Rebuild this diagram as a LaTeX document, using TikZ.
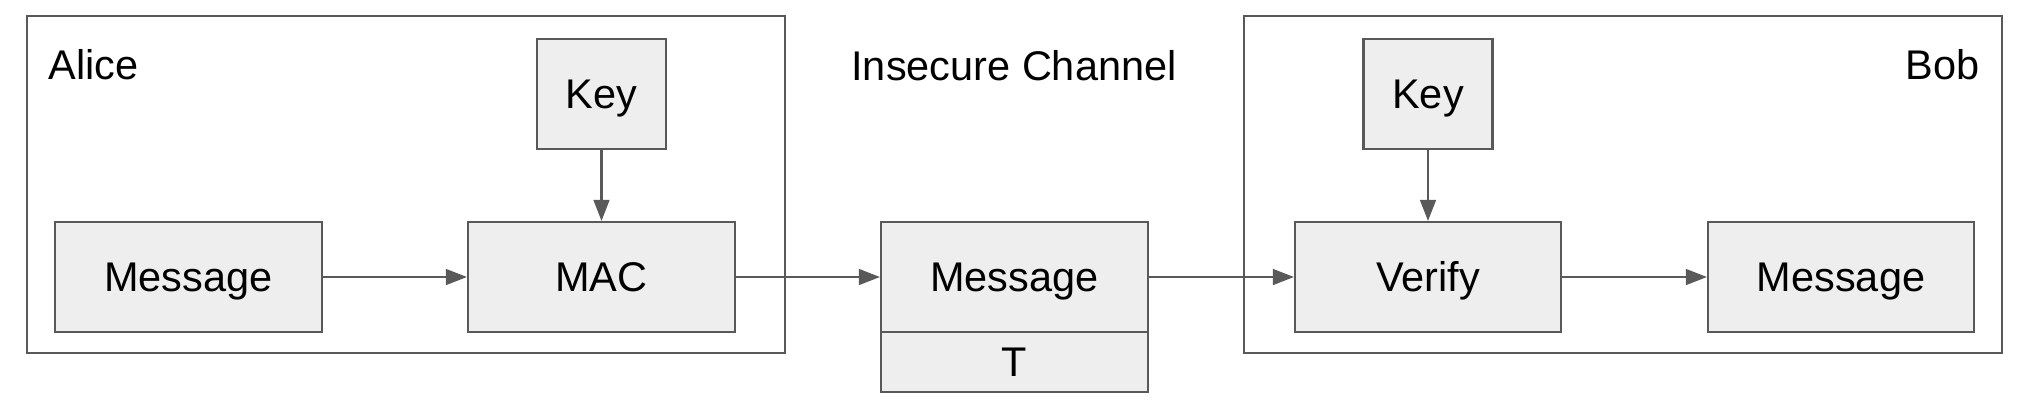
\documentclass[tikz,border=0pt]{standalone}
\usepackage{fontspec}
\setmainfont{Liberation Sans}
\usetikzlibrary{arrows.meta, positioning}
\definecolor{linegray}{HTML}{595959}
\definecolor{boxgray}{HTML}{EEEEEE}

\begin{document}
\begin{tikzpicture}[
    font=\fontsize{11.8}{14}\selectfont,
    box/.style={draw=linegray, fill=boxgray, line width=0.6pt, inner sep=0pt, text height=8.4pt, text depth=0pt, minimum height=1.1cm},
    frame/.style={draw=linegray, line width=0.6pt, inner sep=0pt},
    label/.style={inner sep=0pt},
    arrow/.style={-{Triangle[length=6pt, width=4.5pt]}, draw=linegray, line width=0.6pt}
]
    \useasboundingbox (0, 0) rectangle (20.2, -4);

    % 外框
    \node[frame, minimum width=7.58cm, minimum height=3.37cm] (aliceframe) at (4.06, -1.845) {};
    \node[frame, minimum width=7.58cm, minimum height=3.37cm] (bobframe) at (16.23, -1.845) {};

    % 标题
    \node[label, anchor=base west] (alicelabel) at (0.48, -0.79) {Alice};
    \node[label, anchor=base] (channellabel) at (10.14, -0.80) {Insecure Channel};
    \node[label, anchor=base east] (boblabel) at (19.80, -0.79) {Bob};

    % Alice 一侧
    \node[box, minimum width=1.29cm] (keyA) at (6.015, -0.94) {Key};
    \node[box, minimum width=2.67cm] (msgA) at (1.885, -2.77) {Message};
    \node[box, minimum width=2.67cm] (mac) at (6.015, -2.77) {MAC};

    % 信道
    \node[box, minimum width=2.67cm] (msgC) at (10.145, -2.77) {Message};
    \node[box, minimum width=2.67cm, minimum height=0.6cm] (tag) at (10.145, -3.62) {T};

    % Bob 一侧
    \node[box, minimum width=1.29cm] (keyB) at (14.28, -0.94) {Key};
    \node[box, minimum width=2.66cm] (verify) at (14.28, -2.77) {Verify};
    \node[box, minimum width=2.66cm] (msgB) at (18.41, -2.77) {Message};

    % 箭头
    \draw[arrow] (msgA) -- (mac);
    \draw[arrow] (keyA) -- (mac);
    \draw[arrow] (mac) -- (msgC);
    \draw[arrow] (msgC) -- (verify);
    \draw[arrow] (keyB) -- (verify);
    \draw[arrow] (verify) -- (msgB);
\end{tikzpicture}
\end{document}
